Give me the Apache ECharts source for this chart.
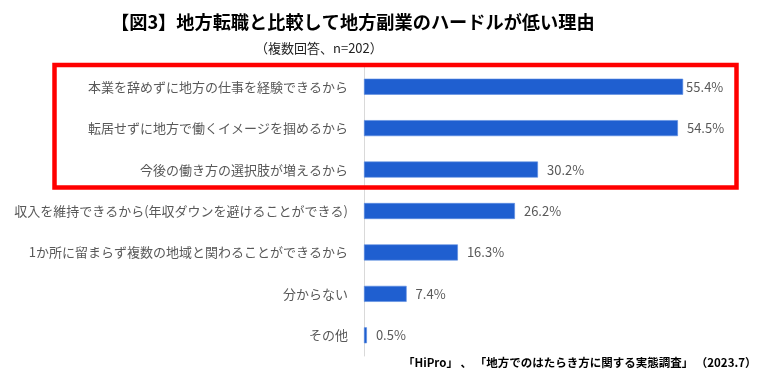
<!DOCTYPE html>
<html><head><meta charset="utf-8">
<script src="https://cdn.jsdelivr.net/npm/echarts@6/dist/echarts.min.js"></script>
<style>html,body{margin:0;padding:0;background:#fff}#c{width:774px;height:379px}</style>
</head><body><div id="c"></div>
<script>
const titleText = '【図3】地方転職と比較して地方副業のハードルが低い理由';
const subtitleText = '（複数回答、n=202）';
const sourceText = '「HiPro」 、 「地方でのはたらき方に関する実態調査」 （2023.7）';
const categories = [
  '本業を辞めずに地方の仕事を経験できるから',
  '転居せずに地方で働くイメージを掴めるから',
  '今後の働き方の選択肢が増えるから',
  '収入を維持できるから(年収ダウンを避けることができる)',
  '1か所に留まらず複数の地域と関わることができるから',
  '分からない',
  'その他'
];
const values = [55.4, 54.5, 30.2, 26.2, 16.3, 7.4, 0.5];

const font = '"Noto Sans CJK JP", "Noto Sans", sans-serif';
const chart = echarts.init(document.getElementById('c'));
chart.setOption({
  backgroundColor: '#fff',
  animation: false,
  textStyle: { fontFamily: font },
  title: [
    { text: titleText, left: 106, top: 8, textStyle: { fontFamily: font, fontSize: 18.2, fontWeight: 'bold', color: '#000' } },
    { text: subtitleText, left: 250, top: 37, textStyle: { fontFamily: font, fontSize: 13, fontWeight: 'normal', color: '#222' } },
    { text: sourceText, left: 398, top: 352, textStyle: { fontFamily: font, fontSize: 11.5, fontWeight: 'bold', color: '#000' } }
  ],
  grid: { left: 364, top: 66, width: 345.6, height: 290, containLabel: false },
  xAxis: { type: 'value', min: 0, max: 60, show: false },
  yAxis: {
    type: 'category', data: categories, inverse: true,
    axisLine: { show: true, lineStyle: { color: '#d9d9d9', width: 1 } },
    axisTick: { show: false },
    axisLabel: { color: '#595959', fontSize: 13, margin: 16, fontFamily: font }
  },
  series: [{
    type: 'bar',
    data: values.map((v, i) => i === 0 ? { value: v, label: { distance: 3 } } : v),
    barWidth: 16,
    itemStyle: { color: '#1f5fd0', borderColor: '#5b8be0', borderWidth: 0.6 },
    label: {
      show: true, position: 'right', distance: 9, color: '#595959', fontSize: 13, fontFamily: font,
      formatter: p => p.value.toFixed(1) + '%'
    }
  }],
  graphic: [{
    type: 'rect', shape: { x: 54.5, y: 65, width: 682, height: 122.5 },
    style: { fill: 'none', stroke: '#ff0000', lineWidth: 4.5 }, z: 100
  }]
});
</script></body></html>
